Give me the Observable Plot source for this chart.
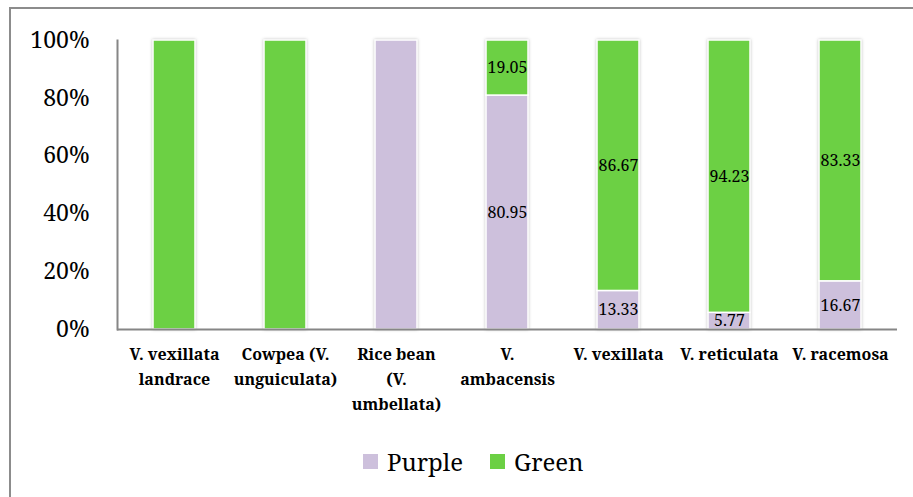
<!DOCTYPE html>
<html>
<head>
<meta charset="utf-8">
<script src="https://cdn.jsdelivr.net/npm/d3@7"></script>
<script src="https://cdn.jsdelivr.net/npm/@observablehq/plot@0.6"></script>
<style>
  html, body { margin: 0; padding: 0; background: #fff; }
  #wrap { position: relative; width: 913px; height: 497px; overflow: hidden; font-family: "Noto Serif", "Liberation Serif", serif; }
  #border { position: absolute; left: 9px; top: 7px; width: 1000px; height: 600px; border: 2px solid #8c8c8c; box-sizing: border-box; }
  #chart { position: absolute; left: 0; top: 0; }
  #legend { position: absolute; top: 445px; left: 0; width: 913px; height: 32px; }
  .item { position: absolute; top: 0; display: flex; align-items: center; height: 32px; font-size: 24px; color: #000; }
  .sw { width: 15px; height: 15px; margin-right: 9px; }
  g[aria-label="bar"] { filter: drop-shadow(0px 0px 1.5px rgba(0,0,0,0.25)); }
  svg text { font-family: "Noto Serif", "Liberation Serif", serif; }
</style>
</head>
<body>
<div id="wrap">
  <div id="border"></div>
  <div id="chart"></div>
  <div id="legend"></div>
</div>
<script>
const categories = ["V. vexillata landrace", "Cowpea (V. unguiculata)", "Rice bean (V. umbellata)", "V. ambacensis", "V. vexillata", "V. reticulata", "V. racemosa"];
const categoryLines = ["V. vexillata\nlandrace", "Cowpea (V.\nunguiculata)", "Rice bean\n(V.\numbellata)", "V.\nambacensis", "V. vexillata", "V. reticulata", "V. racemosa"];
const series = ["Purple", "Green"];
const purple = [0, 0, 100, 80.95, 13.33, 5.77, 16.67];
const green = [100, 100, 0, 19.05, 86.67, 94.23, 83.33];
const yTicks = [0, 20, 40, 60, 80, 100];
const colors = ["#cdc0dc", "#6cd044"];

const data = [];
categories.forEach((c, i) => {
  data.push({category: c, series: "Purple", value: purple[i]});
  data.push({category: c, series: "Green", value: green[i]});
});
const labelOf = new Map(categories.map((c, i) => [c, categoryLines[i]]));
const colorOf = new Map(series.map((s, i) => [s, colors[i]]));

const chart = Plot.plot({
  width: 913,
  height: 430,
  marginLeft: 117,
  marginRight: 16,
  marginTop: 40,
  marginBottom: 101,
  style: {fontFamily: "'Noto Serif', 'Liberation Serif', serif", background: "transparent", overflow: "visible"},
  x: {domain: categories, paddingInner: 0.62, paddingOuter: 0.31, label: null},
  y: {domain: [0, 100], label: null},
  marks: [
    Plot.barY(data, Plot.stackY({x: "category", y: "value", fill: d => colorOf.get(d.series), stroke: "#fff", strokeWidth: 1.5})),
    Plot.text(data, Plot.stackY({
      x: "category", y: "value",
      text: d => (d.value > 0 && d.value < 100) ? d.value.toFixed(2) : null,
      fontSize: 16, fill: "#000"
    })),
    Plot.frame({anchor: "left", stroke: "#868686", strokeWidth: 2}),
    Plot.ruleY([0], {stroke: "#868686", strokeWidth: 2}),
    Plot.axisY({ticks: yTicks, tickSize: 0, tickPadding: 28, tickFormat: d => d + "%", fontSize: 23, fill: "#000", label: null}),
    Plot.axisX({tickSize: 0, tickPadding: 13, tickFormat: d => labelOf.get(d), fontSize: 16, fontWeight: "bold", lineHeight: 1.55, fill: "#000", label: null})
  ]
});
document.getElementById("chart").appendChild(chart);

const legend = document.getElementById("legend");
const positions = [363, 490];
series.forEach((s, i) => {
  const item = document.createElement("div");
  item.className = "item";
  item.style.left = positions[i] + "px";
  const sw = document.createElement("div");
  sw.className = "sw";
  sw.style.background = colors[i];
  item.appendChild(sw);
  item.appendChild(document.createTextNode(s));
  legend.appendChild(item);
});
</script>
</body>
</html>
